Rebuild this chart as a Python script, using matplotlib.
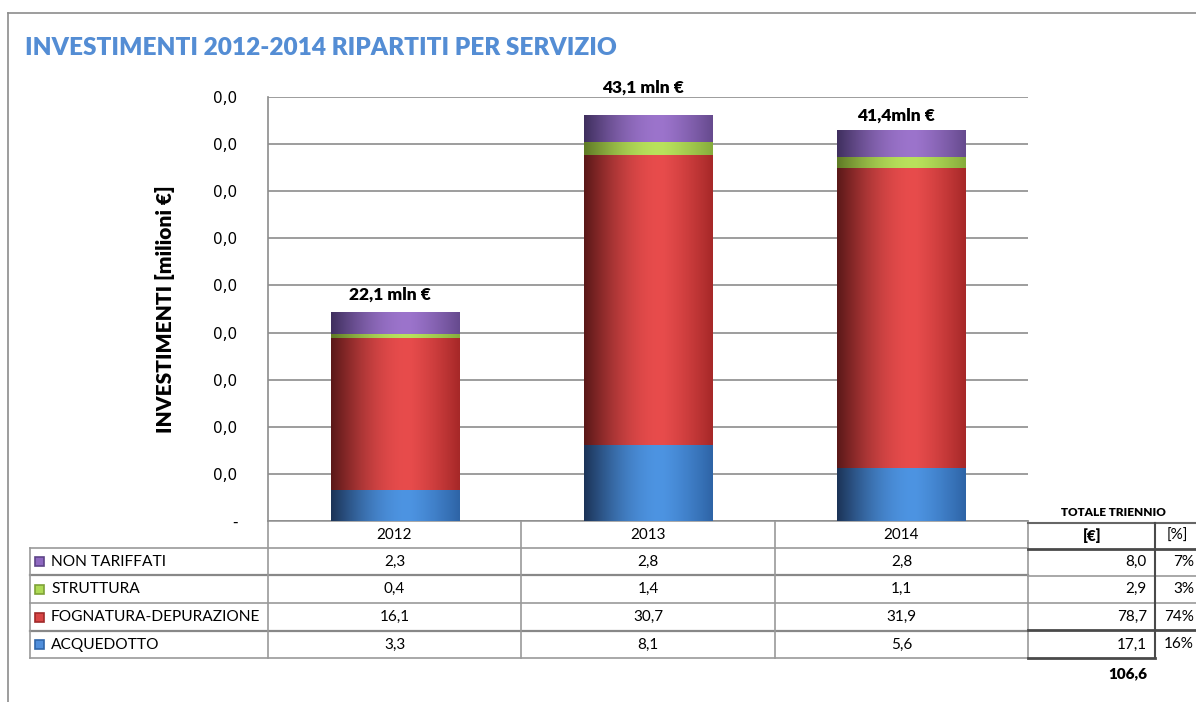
import numpy as np
import matplotlib
matplotlib.use("Agg")
import matplotlib.pyplot as plt
from matplotlib.colors import to_rgb
from matplotlib.patches import Rectangle
from matplotlib.ticker import FixedLocator, FixedFormatter

# ---------------- data ----------------
years = ["2012", "2013", "2014"]
series_names = ["NON TARIFFATI", "STRUTTURA", "FOGNATURA-DEPURAZIONE", "ACQUEDOTTO"]  # table order (top->bottom)
non_tariffati = [2.3, 2.8, 2.8]
struttura = [0.4, 1.4, 1.1]
fognatura = [16.1, 30.7, 31.9]
acquedotto = [3.3, 8.1, 5.6]
total_labels = ["22,1 mln €", "43,1 mln €", "41,4mln €"]
tot_eur = ["8,0", "2,9", "78,7", "17,1"]
tot_pct = ["7%", "3%", "74%", "16%"]
grand_total = "106,6"
yticks = [0, 5, 10, 15, 20, 25, 30, 35, 40, 45]
ytick_labels = ["-"] + ["0,0"] * 9

# ---------------- style ----------------
W, H = 1196, 702
colors = {  # (dark left, peak, right)
    "ACQUEDOTTO": ("#1B3357", "#4D94E2", "#2E64A6"),
    "FOGNATURA-DEPURAZIONE": ("#5A1818", "#E84C4C", "#A62828"),
    "STRUTTURA": ("#5F7A25", "#B9E25C", "#86AC3C"),
    "NON TARIFFATI": ("#3F2F5E", "#9C74CC", "#664A8E"),
}
marker_colors = {
    "ACQUEDOTTO": ("#2F66AA", "#4F8EDB"),
    "FOGNATURA-DEPURAZIONE": ("#A02A2A", "#D84545"),
    "STRUTTURA": ("#7EA238", "#AEDA55"),
    "NON TARIFFATI": ("#5E4488", "#8E68C0"),
}
TEXTFONT = "Lato"

fig = plt.figure(figsize=(W / 100, H / 100), dpi=100)
fig.patch.set_facecolor("white")

ax_l, ax_r, ax_t, ax_b = 268, 1028, 97, 521
ax = fig.add_axes([ax_l / W, (H - ax_b) / H, (ax_r - ax_l) / W, (ax_b - ax_t) / H])

x = np.arange(len(years))
bw = 0.506
stack = [("ACQUEDOTTO", acquedotto), ("FOGNATURA-DEPURAZIONE", fognatura),
         ("STRUTTURA", struttura), ("NON TARIFFATI", non_tariffati)]


def grad_img(name, n=200):
    dk, pk, rt = [np.array(to_rgb(c)) for c in colors[name]]
    t = np.linspace(0, 1, n)
    img = np.zeros((1, n, 3))
    for i, tt in enumerate(t):
        if tt < 0.6:
            s = np.sin(tt / 0.6 * np.pi / 2)
            c = dk + (pk - dk) * s
        else:
            s = ((tt - 0.6) / 0.4) ** 1.3
            c = pk + (rt - pk) * s
        img[0, i] = c
    return img


bottom = np.zeros(len(years))
for name, vals in stack:
    bars = ax.bar(x, vals, bw, bottom=bottom, color=colors[name][1], zorder=2, linewidth=0)
    for p in bars:
        x0, y0, w, h = p.get_x(), p.get_y(), p.get_width(), p.get_height()
        ax.imshow(grad_img(name), extent=(x0, x0 + w, y0, y0 + h), aspect="auto",
                  zorder=3, interpolation="bilinear")
    bottom = bottom + np.array(vals)

label_off = [1.9, 3.0, 1.6]
for i, lab in enumerate(total_labels):
    ax.text(x[i] - 0.02, bottom[i] + label_off[i], lab, ha="center", va="center",
            fontsize=12.5, fontweight="heavy", family=TEXTFONT, color="black")

ax.set_xlim(-0.5, 2.5)
ax.set_ylim(0, 45)
ax.yaxis.set_major_locator(FixedLocator(yticks))
ax.yaxis.set_major_formatter(FixedFormatter(ytick_labels))
ax.tick_params(axis="y", length=0, pad=22, labelsize=11, labelcolor="black")
for lab in ax.get_yticklabels():
    lab.set_family("DejaVu Sans")
ax.set_xticks([])
ax.grid(axis="y", color="#8C8C8C", linewidth=1.2, zorder=0)
for s in ["top", "right", "bottom"]:
    ax.spines[s].set_visible(False)
ax.spines["left"].set_color("#8C8C8C")
ax.spines["left"].set_linewidth(1.2)
ax.set_facecolor("none")

# ---------------- overlay (pixel coordinates) ----------------
ov = fig.add_axes([0, 0, 1, 1], zorder=-1)
ov.set_xlim(0, W)
ov.set_ylim(H, 0)
ov.axis("off")

gray = "#9A9A9A"
dark = "#4A4A4A"
# frame
ov.plot([8, 8], [13, H], color="#8C8C8C", lw=1.2)
ov.plot([8, W], [13, 13], color="#8C8C8C", lw=1.2)

fig.text(25 / W, 1 - 48 / H, "INVESTIMENTI 2012-2014 RIPARTITI PER SERVIZIO", color="#548DD4",
         fontsize=17.6, fontweight="heavy", family=TEXTFONT, ha="left", va="center")
fig.text(165 / W, 1 - 309 / H, "INVESTIMENTI [milioni €]", rotation=90, fontsize=15,
         fontweight="heavy", family=TEXTFONT, ha="center", va="center")

# main table
col_x = [268, 521, 775, 1028]
row_y = [521, 548, 575, 603, 631, 658]
ov.plot([268, 1028], [521, 521], color=gray, lw=1.2)
for yy in row_y[1:]:
    lw = 1.6 if yy in (575, 631) else 1.2
    c = "#888888" if yy in (575, 631) else gray
    ov.plot([30, 1028], [yy, yy], color=c, lw=lw)
ov.plot([30, 30], [548, 658], color=gray, lw=1.2)
for cx in col_x:
    ov.plot([cx, cx], [521, 658], color=gray, lw=1.2)
for j, yr in enumerate(years):
    ov.text((col_x[j] + col_x[j + 1]) / 2, 535, yr, ha="center", va="center",
            fontsize=11, family=TEXTFONT)
table_vals = [non_tariffati, struttura, fognatura, acquedotto]
for i, name in enumerate(series_names):
    yc = (row_y[i + 1] + row_y[i + 2]) / 2
    ec, fc = marker_colors[name]
    ov.add_patch(Rectangle((35, yc - 4.5), 9, 9, facecolor=fc, edgecolor=ec, lw=1.2, zorder=3))
    ov.text(51, yc, name, ha="left", va="center", fontsize=11.2, family=TEXTFONT)
    for j in range(len(years)):
        ov.text((col_x[j] + col_x[j + 1]) / 2, yc, f"{table_vals[i][j]:.1f}".replace(".", ","),
                ha="center", va="center", fontsize=11, family=TEXTFONT)

# side table
ov.text(1113, 512, "TOTALE TRIENNIO", ha="center", va="center", fontsize=8.5,
        fontweight="heavy", family=TEXTFONT)
ov.plot([1028, W], [523, 523], color="#666666", lw=1.5)
ov.plot([1028, W], [549, 549], color=dark, lw=2)
ov.plot([1028, W], [576, 576], color=gray, lw=1.2)
ov.plot([1028, W], [603, 603], color=gray, lw=1.2)
ov.plot([1028, W], [630, 630], color=dark, lw=2)
ov.plot([1028, 1155], [658, 658], color=dark, lw=2)
ov.plot([1155, 1155], [523, 658], color=dark, lw=1.5)
ov.text(1092, 536, "[€]", ha="center", va="center", fontsize=11, fontweight="heavy", family=TEXTFONT)
ov.text(1177, 536, "[%]", ha="center", va="center", fontsize=11, family=TEXTFONT)
for i in range(4):
    yc = (row_y[i + 1] + row_y[i + 2]) / 2
    ov.text(1147, yc, tot_eur[i], ha="right", va="center", fontsize=11, family=TEXTFONT)
    ov.text(1194, yc, tot_pct[i], ha="right", va="center", fontsize=11, family=TEXTFONT)
ov.text(1128, 674, grand_total, ha="center", va="center", fontsize=11, fontweight="heavy",
        family=TEXTFONT)

fig.savefig("out.png", dpi=100)
